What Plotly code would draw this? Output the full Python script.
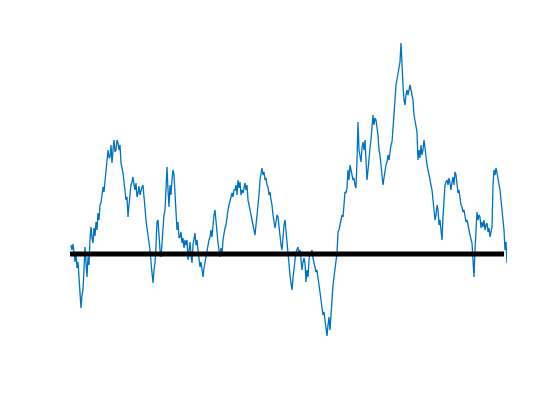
import numpy as np
import plotly.graph_objects as go

# random walk, one value per step
walk = [
    9, 4, 10, -1, -8, 2, -14, -8, -26, -36, -54, -41, -36, -16, 7, -8, -23, -3, -11, 14,
    27, 16, 11, 26, 18, 32, 24, 41, 34, 49, 51, 59, 67, 62, 74, 82, 94, 104, 96, 97,
    109, 91, 104, 114, 102, 104, 114, 111, 104, 109, 91, 86, 81, 72, 61, 54, 57, 37, 49, 64,
    69, 72, 77, 69, 64, 71, 57, 61, 68, 59, 64, 67, 69, 54, 44, 34, 26, 19, 14, 4,
    -8, -21, -29, -16, -9, 9, 32, 34, 14, 4, -3, 14, 32, 39, 44, 69, 87, 64, 47, 69,
    59, 74, 84, 79, 64, 44, 24, 32, 16, 17, 22, 11, 16, 6, 14, 9, 14, -6, 6, 12,
    -1, -9, 9, 16, 21, 9, 14, 4, -4, -13, -8, -18, -23, -14, -8, -1, 2, 9, 14, 17,
    24, 17, 32, 39, 44, 29, 22, 11, 4, -3, 6, -1, 14, 22, 26, 29, 39, 44, 49, 54,
    56, 61, 57, 64, 64, 69, 59, 74, 66, 72, 59, 64, 61, 69, 71, 64, 69, 54, 49, 44,
    39, 32, 26, 22, 19, 29, 39, 44, 59, 74, 82, 86, 79, 82, 74, 76, 69, 67, 59, 62,
    54, 49, 39, 32, 26, 32, 39, 37, 26, 14, 9, 4, 19, 29, 34, 22, 9, 2, -8, -21,
    -29, -36, -24, -11, -6, 2, 6, 7, -1, 4, -6, -16, -8, -4, -9, -28, -16, -23, -6, 2,
    -1, 4, -4, -8, -13, -18, -16, -23, -31, -38, -46, -49, -61, -58, -66, -76, -82, -71, -63, -76,
    -56, -36, -31, -23, -14, -6, 1, 22, 24, 29, 34, 39, 37, 49, 62, 61, 66, 84, 74, 89,
    82, 79, 74, 76, 69, 66, 94, 132, 104, 99, 92, 106, 112, 104, 114, 94, 74, 84, 99, 106,
    114, 129, 139, 129, 136, 134, 126, 119, 104, 99, 89, 79, 69, 76, 86, 89, 92, 99, 94, 104,
    109, 112, 124, 134, 154, 169, 174, 182, 184, 192, 211, 184, 169, 154, 149, 159, 164, 159, 166, 169,
    164, 159, 154, 139, 132, 126, 122, 94, 104, 96, 109, 99, 104, 114, 104, 94, 89, 84, 79, 76,
    71, 64, 54, 44, 34, 39, 49, 44, 29, 34, 22, 14, 37, 54, 69, 72, 74, 69, 76, 71,
    64, 72, 77, 69, 82, 79, 69, 61, 64, 56, 49, 47, 42, 44, 37, 32, 34, 27, 24, 19,
    16, 11, -6, -23, 4, 19, 42, 34, 39, 37, 26, 32, 27, 34, 24, 29, 31, 22, 26, 17,
    24, 27, 69, 84, 79, 86, 81, 76, 71, 64, 54, 44, 37, 24, 4, 12, -9,
]
steps = np.arange(1, len(walk) + 1)

zero_x = [0, 434]
zero_y = [0, 0]

fig = go.Figure()
fig.add_trace(go.Scatter(
    x=steps, y=walk, mode="lines",
    line=dict(color="#0072BD", width=1.3),
    hoverinfo="skip",
))
fig.add_trace(go.Scatter(
    x=zero_x, y=zero_y, mode="lines",
    line=dict(color="black", width=5),
    hoverinfo="skip",
))

fig.update_xaxes(range=[0, 437], visible=False)
fig.update_yaxes(range=[-86, 214], visible=False)
fig.update_layout(
    width=560, height=420,
    margin=dict(l=62, r=61, t=32, b=88),
    showlegend=False,
    plot_bgcolor="white", paper_bgcolor="white",
)

fig.write_html("out.html")
